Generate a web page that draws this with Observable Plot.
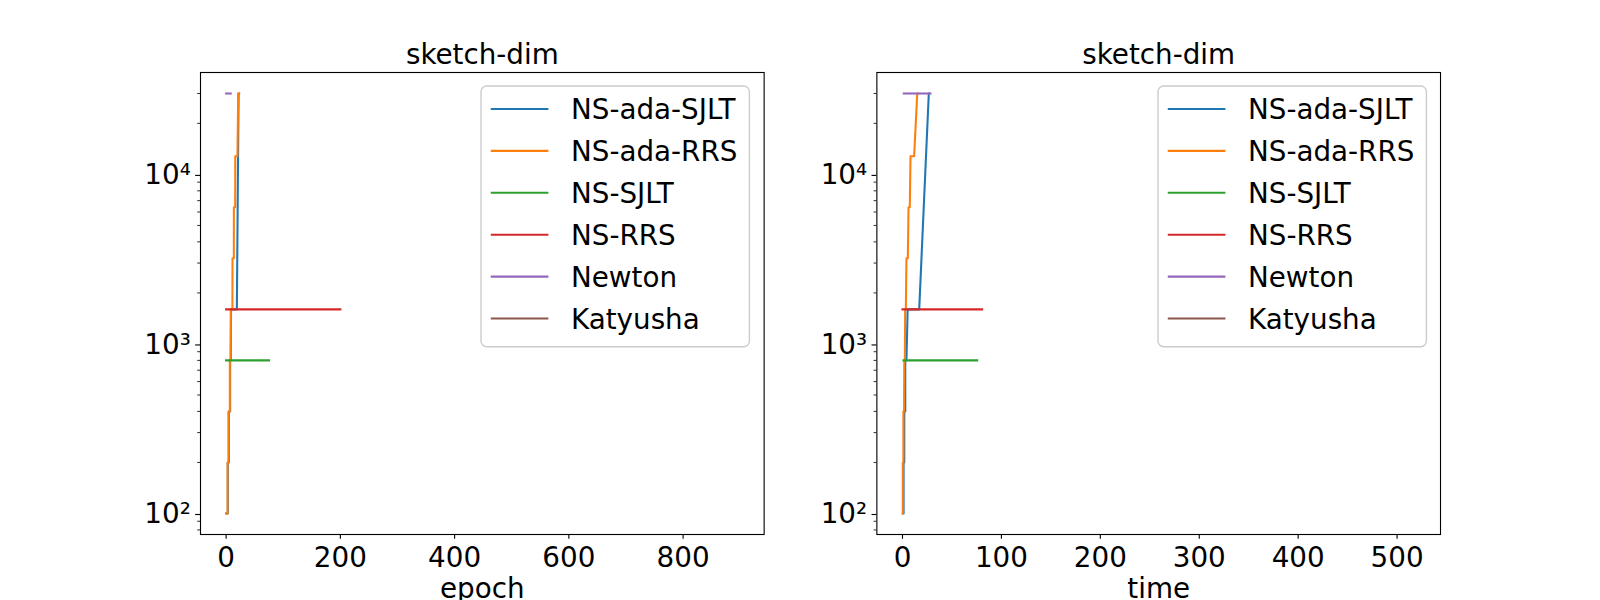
<!DOCTYPE html>
<html>
<head>
<meta charset="utf-8">
<script src="https://cdn.jsdelivr.net/npm/d3@7"></script>
<script src="https://cdn.jsdelivr.net/npm/@observablehq/plot@0.6"></script>
<style>
  html, body { margin: 0; padding: 0; background: #fff; }
  #wrap { position: relative; width: 1600px; height: 600px; overflow: hidden; font-family: "DejaVu Sans", sans-serif; }
  .legend { position: absolute; overflow: visible; }
</style>
</head>
<body>
<div id="wrap"></div>
<script>
// ---------------- data ----------------
const seriesNames  = ["NS-ada-SJLT", "NS-ada-RRS", "NS-SJLT", "NS-RRS", "Newton", "Katyusha"];
const seriesColors = ["#1f77b4", "#ff7f0e", "#2ca02c", "#d62728", "#9467bd", "#8c564b"];

// NS-ada-SJLT
const adaSjltDim   = [100, 100, 200, 200, 400, 400, 800, 800, 1600, 1600, 30000, 30000];
const adaSjltEpoch = [0, 3, 3, 4.8, 4.8, 7, 7, 8.2, 8.6, 18.8, 21.8, 22.8];
const adaSjltTime  = [0.6, 1.1, 1.1, 1.8, 1.8, 2.8, 2.8, 4.0, 5.2, 16.9, 26.6, 26.6];

// NS-ada-RRS
const adaRrsDim   = [100, 100, 200, 200, 400, 400, 800, 800, 1600, 1600, 3200, 3200, 6400, 6400, 12800, 12800, 30000, 30000];
const adaRrsEpoch = [0, 2.5, 2.5, 4.2, 4.2, 6.5, 6.5, 7.8, 8.2, 11, 11.2, 13.5, 13.6, 15.9, 16, 19.8, 21.2, 22.2];
const adaRrsTime  = [0, 0.3, 0.3, 0.9, 0.9, 1.6, 1.8, 2.4, 2.7, 3.4, 4.0, 5.4, 6.1, 7.4, 8.1, 11.8, 14.9, 15.2];

// NS-SJLT
const sjltDim   = [800, 800];
const sjltEpoch = [0, 75];
const sjltTime  = [1, 75.5];

// NS-RRS
const rrsDim   = [1600, 1600];
const rrsEpoch = [0, 200];
const rrsTime  = [0, 80.5];

// Newton
const newtonDim   = [30000, 30000];
const newtonEpoch = [0, 8];
const newtonTime  = [1.3, 28.3];

// Katyusha (nothing visible on the log axis)
const katyushaDim   = [];
const katyushaEpoch = [];
const katyushaTime  = [];

// data extents of the x variables (Katyusha runs longest)
const epochExtent = [0, 897];
const timeExtent  = [0, 518];
const dimExtent   = [100, 30000];

const epochTicks = [0, 200, 400, 600, 800];
const timeTicks  = [0, 100, 200, 300, 400, 500];
const yTickValues = [100, 1000, 10000];
const yTickLabels = ["10²", "10³", "10⁴"];
const yMinorTicks = [80, 90, 200, 300, 400, 500, 600, 700, 800, 900,
                     2000, 3000, 4000, 5000, 6000, 7000, 8000, 9000, 20000, 30000];

const titleText = "sketch-dim";
const xLabels = ["epoch", "time"];

// ---------------- build table ----------------
const seriesData = [
  [adaSjltDim, adaSjltEpoch, adaSjltTime],
  [adaRrsDim, adaRrsEpoch, adaRrsTime],
  [sjltDim, sjltEpoch, sjltTime],
  [rrsDim, rrsEpoch, rrsTime],
  [newtonDim, newtonEpoch, newtonTime],
  [katyushaDim, katyushaEpoch, katyushaTime]
];
const rows = [];
seriesData.forEach(([dims, epochs, times], i) => {
  dims.forEach((d, j) => rows.push({series: seriesNames[i], dim: d, epoch: epochs[j], time: times[j]}));
});

// matplotlib-like 5% margins
const linMargin = ([a, b]) => [a - 0.05 * (b - a), b + 0.05 * (b - a)];
const logMargin = ([a, b]) => {
  const la = Math.log10(a), lb = Math.log10(b), m = 0.05 * (lb - la);
  return [Math.pow(10, la - m), Math.pow(10, lb + m)];
};
const yDomain = logMargin(dimExtent);

const FS = 27.78;
const ML = 200, AXW = 563.64, GAP = 112.73, MT = 72, MB = 66;

function panel(xKey, xDomain, xTicks, xLabel, marginLeft, marginRight) {
  return Plot.plot({
    width: 800, height: 600,
    marginLeft, marginRight, marginTop: MT, marginBottom: MB,
    style: {fontFamily: "DejaVu Sans", fontSize: FS + "px", color: "black", background: "transparent", overflow: "visible"},
    x: {domain: xDomain, nice: false},
    y: {type: "log", domain: yDomain, nice: false},
    color: {domain: seriesNames, range: seriesColors},
    marks: [
      Plot.line(rows, {x: xKey, y: "dim", z: "series", stroke: "series",
                       strokeWidth: 2.08, strokeLinecap: "square", strokeLinejoin: "round"}),
      Plot.frame({stroke: "black", strokeWidth: 1.11}),
      Plot.axisX({ticks: xTicks, tickSize: 4.86, tickPadding: 8.1, tickFormat: d => String(d), label: null, strokeWidth: 1.11}),
      Plot.axisY({ticks: yTickValues, tickSize: 4.86, tickPadding: 4.86,
                  tickFormat: d => yTickLabels[yTickValues.indexOf(d)], label: null, strokeWidth: 1.11, dy: 1}),
      Plot.axisY({ticks: yMinorTicks, tickSize: 2.78, fill: "none", label: null, strokeWidth: 0.83}),
      Plot.text([titleText], {text: d => d, frameAnchor: "top", lineAnchor: "middle", dy: -17.2}),
      Plot.text([xLabel], {text: d => d, frameAnchor: "bottom", lineAnchor: "middle", dy: 55.1})
    ]
  });
}

const wrap = document.getElementById("wrap");
const p1 = panel("epoch", linMargin(epochExtent), epochTicks, xLabels[0], ML, 800 - ML - AXW);
p1.style.left = "0px"; p1.style.position = "absolute"; p1.style.top = "0px";
wrap.appendChild(p1);

const left2 = ML + AXW + GAP - 800;
const p2 = panel("time", linMargin(timeExtent), timeTicks, xLabels[1], left2, 800 - left2 - AXW);
p2.style.left = "800px"; p2.style.position = "absolute"; p2.style.top = "0px";
wrap.appendChild(p2);

// ---------------- legends ----------------
function legend(axRight) {
  const pad = 0.5 * FS;            // borderaxespad
  const boxW = 268.4, boxH = 260.7;
  const boxLeft = axRight - pad - boxW, boxTop = MT + pad;
  const svg = d3.select(wrap).append("svg")
    .attr("class", "legend")
    .attr("width", boxW + 4).attr("height", boxH + 4)
    .style("left", (boxLeft - 2) + "px").style("top", (boxTop - 2) + "px");
  svg.append("rect")
    .attr("x", 2).attr("y", 2).attr("width", boxW).attr("height", boxH)
    .attr("rx", 5.6).attr("ry", 5.6)
    .attr("fill", "white").attr("fill-opacity", 0.8)
    .attr("stroke", "#cccccc").attr("stroke-width", 1.39);
  const g = svg.append("g").attr("transform", "translate(2,2)");
  seriesNames.forEach((name, i) => {
    const cy = 23 + i * 41.9;
    g.append("line")
      .attr("x1", 10.8).attr("x2", 10.8 + 2 * FS)
      .attr("y1", cy).attr("y2", cy)
      .attr("stroke", seriesColors[i]).attr("stroke-width", 2.08)
      .attr("stroke-linecap", "square");
    g.append("text")
      .attr("x", 90).attr("y", cy + 10)
      .attr("font-family", "DejaVu Sans").attr("font-size", FS)
      .attr("fill", "black")
      .text(name);
  });
}
legend(ML + AXW);
legend(ML + 2 * AXW + GAP);
</script>
</body>
</html>
